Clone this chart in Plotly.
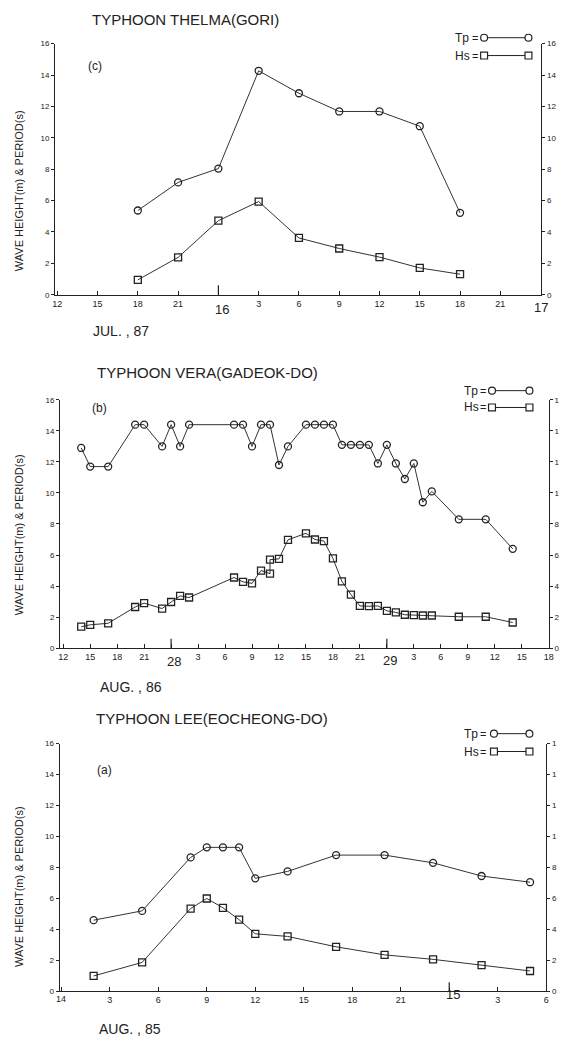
import plotly.graph_objects as go

W, H = 566, 1045
FONT = "Liberation Sans"
INK = "#222222"

# ---------------- data ----------------
# Panel (c) Typhoon Thelma (Gori), Jul 1987 ; hours counted from 12h on the 15th
c_hours = [6, 9, 12, 15, 18, 21, 24, 27, 30]
c_tp = [5.37, 7.16, 8.04, 14.27, 12.84, 11.68, 11.68, 10.74, 5.22]
c_hs = [0.95, 2.38, 4.72, 5.94, 3.62, 2.95, 2.40, 1.71, 1.31]
c_tick_hours = list(range(0, 37, 3))
c_tick_text = ["12", "15", "18", "21", "", "3", "6", "9", "12", "15", "18", "21", ""]
c_day_hours = [12, 36]
c_day_text = ["16", "17"]

# Panel (b) Typhoon Vera (Gadeok-do), Aug 1986 ; hours counted from 12h on the 27th
b_tp_hours = [2, 3, 5, 8, 9, 11, 12, 13, 14, 19, 20, 21, 22, 23, 24, 25, 27, 28, 29, 30,
              31, 32, 33, 34, 35, 36, 37, 38, 39, 40, 41, 44, 47, 50]
b_tp = [12.9, 11.7, 11.7, 14.4, 14.4, 13.0, 14.4, 13.0, 14.4, 14.4, 14.4, 13.0, 14.4, 14.4,
        11.8, 13.0, 14.4, 14.4, 14.4, 14.4, 13.1, 13.1, 13.1, 13.1, 11.9, 13.1, 11.9, 10.9,
        11.9, 9.4, 10.1, 8.3, 8.3, 6.4]
b_hs_hours = [2, 3, 5, 8, 9, 11, 12, 13, 14, 19, 20, 21, 22, 23, 23, 24, 25, 27, 28, 29,
              30, 31, 32, 33, 34, 35, 36, 37, 38, 39, 40, 41, 44, 47, 50]
b_hs = [1.38, 1.5, 1.6, 2.65, 2.9, 2.55, 2.97, 3.37, 3.26, 4.55, 4.27, 4.17, 5.0, 4.8, 5.7,
        5.75, 6.98, 7.4, 7.0, 6.9, 5.78, 4.3, 3.45, 2.72, 2.7, 2.72, 2.4, 2.3, 2.15, 2.13,
        2.1, 2.1, 2.02, 2.02, 1.65]
b_tick_hours = list(range(0, 55, 3))
b_tick_text = ["12", "15", "18", "21", "", "3", "6", "9", "12", "15", "18", "21", "",
               "3", "6", "9", "12", "15", "18"]
b_day_hours = [12, 36]
b_day_text = ["28", "29"]

# Panel (a) Typhoon Lee (Eocheong-do), Aug 1985 ; hours counted from 0h on the 14th
a_hours = [2, 5, 8, 9, 10, 11, 12, 14, 17, 20, 23, 26, 29]
a_tp = [4.6, 5.2, 8.65, 9.3, 9.3, 9.3, 7.3, 7.75, 8.8, 8.8, 8.3, 7.45, 7.05]
a_hs = [1.0, 1.87, 5.35, 6.0, 5.4, 4.63, 3.72, 3.55, 2.88, 2.36, 2.07, 1.7, 1.32]
a_tick_hours = list(range(0, 31, 3))
a_tick_text = ["", "3", "6", "9", "12", "15", "18", "21", "", "3", "6"]
a_day_hours = [0, 24]
a_day_text = ["14", "15"]

y_ticks = list(range(0, 17, 2))
y_text_full = [str(v) for v in y_ticks]
y_text_cut = ["0", "2", "4", "6", "8", "1", "1", "1", "1"]

titles = ["TYPHOON THELMA(GORI)", "TYPHOON VERA(GADEOK-DO)", "TYPHOON LEE(EOCHEONG-DO)"]
months = ["JUL. , 87", "AUG. , 86", "AUG. , 85"]
tags = ["(c)", "(b)", "(a)"]
ylabel = "WAVE HEIGHT(m) & PERIOD(s)"


def px(x):
    return x / W


def py(y):
    return 1 - y / H


def note(text, x, y, size, xanchor="center", angle=0):
    return dict(text=text, xref="paper", yref="paper", x=x, y=y, xanchor=xanchor,
                yanchor="middle", textangle=angle, showarrow=False,
                font=dict(size=size, family=FONT, color=INK))


# layout geometry (pixels)
panels = [
    dict(xl=53, xr=546, y0=293.3, y16=40, xrange=[-0.15, 36.05],
         hours_tp=c_hours, tp=c_tp, hours_hs=c_hours, hs=c_hs,
         tv=c_tick_hours, tt=c_tick_text, dh=c_day_hours, dt=c_day_text,
         rtext=y_text_full, title_xy=(88, 16), month_xy=(89, 330), tag_xy=(93, 63),
         leg_y=(34, 52), leg_x=(456, 479, 488, 533), ylab_y=188, day_y=(308, 306),
         day_dx=(4, 0)),
    dict(xl=58, xr=553.5, y0=649.7, y16=399.3, xrange=[-0.34, 54.0],
         hours_tp=b_tp_hours, tp=b_tp, hours_hs=b_hs_hours, hs=b_hs,
         tv=b_tick_hours, tt=b_tick_text, dh=b_day_hours, dt=b_day_text,
         rtext=y_text_cut, title_xy=(93, 372), month_xy=(96, 689), tag_xy=(98, 408),
         leg_y=(390, 407), leg_x=(466, 487, 496, 534), ylab_y=535, day_y=(663, 662),
         day_dx=(3, 3)),
    dict(xl=57.5, xr=551, y0=996, y16=746, xrange=[-0.1, 30.0],
         hours_tp=a_hours, tp=a_tp, hours_hs=a_hours, hs=a_hs,
         tv=a_tick_hours, tt=a_tick_text, dh=a_day_hours, dt=a_day_text,
         rtext=y_text_cut, title_xy=(92, 721), month_xy=(95, 1034), tag_xy=(103, 773),
         leg_y=(736, 754), leg_x=(466, 487, 498, 534), ylab_y=890, day_y=(1004, 999),
         day_dx=(0, 4)),
]

fig = go.Figure()
layout = dict(width=W, height=H, margin=dict(l=0, r=0, t=0, b=0),
              paper_bgcolor="white", plot_bgcolor="white", showlegend=False,
              font=dict(family=FONT, color=INK))
annotations = []
shapes = []

for i, p in enumerate(panels):
    n = i + 1
    xa = "x" if n == 1 else f"x{n}"
    ya = "y" if n == 1 else f"y{n}"
    yr = f"y{n + 3}"
    xkey = "xaxis" if n == 1 else f"xaxis{n}"
    ykey = "yaxis" if n == 1 else f"yaxis{n}"
    yrkey = f"yaxis{n + 3}"

    xdom = [px(p["xl"]), px(p["xr"])]
    ydom = [py(p["y0"]), py(p["y16"])]
    r0, r1 = p["xrange"]

    def hour_to_px(h, p=p, r0=r0, r1=r1):
        return p["xl"] + (h - r0) / (r1 - r0) * (p["xr"] - p["xl"])

    layout[xkey] = dict(domain=xdom, range=p["xrange"], anchor=ya, showgrid=False,
                        zeroline=False, showline=True, linecolor=INK, linewidth=1.3,
                        ticks="inside", ticklen=4, tickwidth=1, tickcolor=INK,
                        tickvals=p["tv"], ticktext=p["tt"],
                        tickfont=dict(size=9, family=FONT, color=INK))
    layout[ykey] = dict(domain=ydom, range=[0, 16], anchor=xa, showgrid=False,
                        zeroline=False, showline=True, linecolor=INK, linewidth=1.3,
                        ticks="outside", ticklen=3, tickwidth=1, tickcolor=INK,
                        tickvals=y_ticks, ticktext=y_text_full,
                        tickfont=dict(size=8, family=FONT, color=INK))
    layout[yrkey] = dict(range=[0, 16], overlaying=ya, side="right", anchor=xa,
                         showgrid=False, zeroline=False, showline=True, linecolor=INK,
                         linewidth=1.3, ticks="outside", ticklen=3, tickwidth=1,
                         tickcolor=INK, tickvals=y_ticks, ticktext=p["rtext"],
                         tickfont=dict(size=8, family=FONT, color=INK))

    fig.add_trace(go.Scatter(x=p["hours_tp"], y=p["tp"], xaxis=xa, yaxis=ya,
                             mode="lines+markers", line=dict(color="#333333", width=1),
                             marker=dict(symbol="circle-open", size=7, color=INK,
                                         line=dict(width=1.3, color=INK)),
                             hoverinfo="skip"))
    fig.add_trace(go.Scatter(x=p["hours_hs"], y=p["hs"], xaxis=xa, yaxis=ya,
                             mode="lines+markers", line=dict(color="#333333", width=1),
                             marker=dict(symbol="square-open", size=7, color=INK,
                                         line=dict(width=1.3, color=INK)),
                             hoverinfo="skip"))
    fig.add_trace(go.Scatter(x=[None], y=[None], xaxis=xa, yaxis=yr, mode="markers",
                             hoverinfo="skip"))

    # long ticks at day boundaries
    for h in p["dh"]:
        if r0 + 0.5 < h < r1 - 0.5:
            shapes.append(dict(type="line", xref=xa, yref=ya, x0=h, x1=h, y0=0, y1=0.6,
                               line=dict(color=INK, width=1.2)))

    # day labels under the axis
    for k, (h, t) in enumerate(zip(p["dh"], p["dt"])):
        size = 9 if (n == 3 and k == 0) else 13
        xpix = hour_to_px(h) + p["day_dx"][k]
        annotations.append(note(t, px(xpix), py(p["day_y"][k]), size))

    # title, month, panel tag, y-axis label
    annotations.append(note(titles[i], px(p["title_xy"][0]), py(p["title_xy"][1]), 15,
                            xanchor="left"))
    annotations.append(note(months[i], px(p["month_xy"][0]), py(p["month_xy"][1]), 14,
                            xanchor="left"))
    annotations.append(note(tags[i], px(p["tag_xy"][0]), py(p["tag_xy"][1]), 12))
    annotations.append(note(ylabel, px(17), py(p["ylab_y"]), 11, angle=-90))

    # hand-drawn style legend
    tx, eqx, m0, m1 = p["leg_x"]
    for j, (lab, kind) in enumerate([("Tp", "circle"), ("Hs", "rect")]):
        ly = p["leg_y"][j]
        annotations.append(note(lab, px(tx), py(ly), 12, xanchor="left"))
        annotations.append(note("=", px(eqx), py(ly), 11))
        shapes.append(dict(type="line", xref="paper", yref="paper", x0=px(m0), x1=px(m1),
                           y0=py(ly), y1=py(ly), line=dict(color=INK, width=1)))
        for cx in (m0, m1):
            shapes.append(dict(type=kind, xref="paper", yref="paper",
                               x0=px(cx - 3.5), x1=px(cx + 3.5),
                               y0=py(ly + 3.5), y1=py(ly - 3.5),
                               line=dict(color=INK, width=1.2), fillcolor="white"))

layout["annotations"] = annotations
layout["shapes"] = shapes
fig.update_layout(**layout)
fig.write_html("out.html")
